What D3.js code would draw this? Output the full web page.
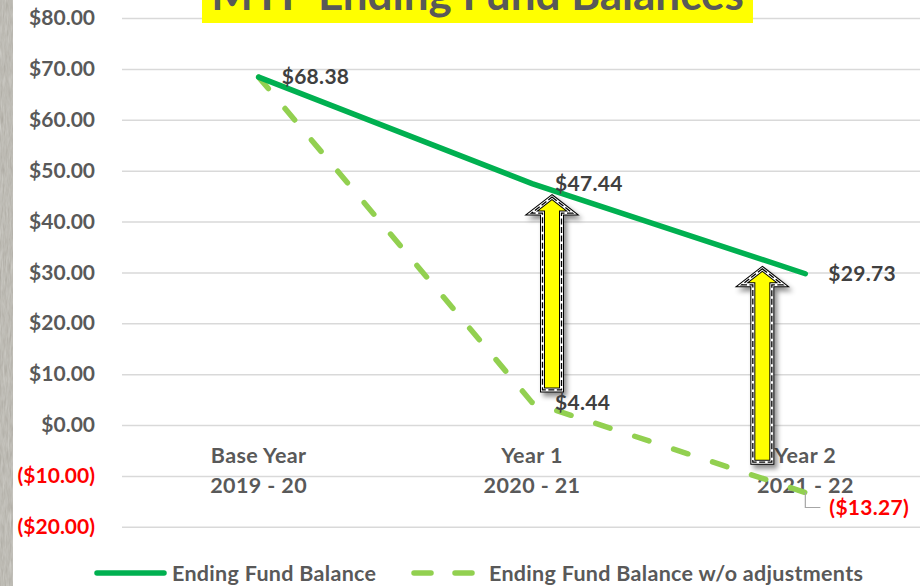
<!DOCTYPE html>
<html>
<head>
<meta charset="utf-8">
<script src="https://cdn.jsdelivr.net/npm/d3@7"></script>
<style>
body { margin: 0; background: #fff; }
svg { display: block; font-family: Lato, "Open Sans", sans-serif; font-weight: bold; }
</style>
</head>
<body>
<svg id="chart" width="920" height="586"></svg>
<script>
// chart values
var catLine1 = ["Base Year", "Year 1", "Year 2"];
var catLine2 = ["2019 - 20", "2020 - 21", "2021 - 22"];
var withAdj = [68.38, 47.44, 29.73];
var withoutAdj = [68.38, 4.44, -13.27];
var yTicks = [-20, -10, 0, 10, 20, 30, 40, 50, 60, 70, 80];
var seriesNames = ["Ending Fund Balance", "Ending Fund Balance w/o adjustments"];
var titleText = "MYP Ending Fund Balances";
// yellow arrows: from (w/o) value up to (with) value, per year
var arrowCat = [1, 2];
var arrowFrom = [6.9, -7.3];
var arrowTo = [44.8, 30.7];

var solidGreen = "#00B050",
    lightGreen = "#92D050",
    textGrey = "#595959";

var svg = d3.select("#chart");
var defs = svg.append("defs");

// stone strip texture on the left
var stone = defs.append("filter").attr("id", "stone").attr("x", 0).attr("y", 0).attr("width", 1).attr("height", 1);
stone.append("feTurbulence").attr("type", "fractalNoise").attr("baseFrequency", "0.6 0.08").attr("numOctaves", 3).attr("result", "n");
stone.append("feColorMatrix").attr("in", "n").attr("type", "matrix")
    .attr("values", "0 0 0 0 0.62  0 0 0 0 0.61  0 0 0 0 0.57  0.6 0.6 0.6 0 -0.4").attr("result", "c");
stone.append("feComposite").attr("in", "c").attr("in2", "SourceGraphic").attr("operator", "over");

var shadow = defs.append("filter").attr("id", "shadow").attr("x", "-50%").attr("y", "-20%").attr("width", "200%").attr("height", "140%");
shadow.append("feDropShadow").attr("dx", 3).attr("dy", 4).attr("stdDeviation", 2.5)
    .attr("flood-color", "#000").attr("flood-opacity", 0.45);

svg.append("rect").attr("x", 0).attr("y", 0).attr("width", 13).attr("height", 586)
    .attr("fill", "#aaa79f").attr("filter", "url(#stone)");

var x = d3.scalePoint().domain(d3.range(catLine1.length)).range([122, 942]).padding(0.5);
var y = d3.scaleLinear().domain([-20, 80]).range([526.75, 18]);

var money = function(d) {
    return d < 0 ? "($" + Math.abs(d).toFixed(2) + ")" : "$" + d.toFixed(2);
};

// gridlines
var grid = svg.append("g").attr("transform", "translate(122,0)")
    .call(d3.axisLeft(y).tickValues(yTicks).tickSize(-820).tickFormat(""));
grid.select(".domain").remove();
grid.selectAll("line").attr("stroke", "#d9d9d9").attr("stroke-width", 1.5);

// y axis labels
var yAx = svg.append("g").attr("transform", "translate(122,0)")
    .call(d3.axisLeft(y).tickValues(yTicks).tickSize(0).tickPadding(27).tickFormat(money));
yAx.select(".domain").remove();
yAx.selectAll("text")
    .attr("font-size", 21).attr("font-family", "Lato, sans-serif").attr("font-weight", "bold")
    .attr("fill", function(d) { return d < 0 ? "#FF0000" : textGrey; });

// category labels
var cats = svg.append("g").attr("font-size", 21.5).attr("fill", textGrey).attr("letter-spacing", 0.4);
cats.selectAll("text.l1").data(catLine1).enter().append("text")
    .attr("x", function(d, i) { return x(i); }).attr("y", 463)
    .attr("text-anchor", "middle").text(function(d) { return d; });
cats.selectAll("text.l2").data(catLine2).enter().append("text")
    .attr("x", function(d, i) { return x(i); }).attr("y", 493)
    .attr("text-anchor", "middle").text(function(d) { return d; });

// lines
var line = d3.line().x(function(d, i) { return x(i); }).y(function(d) { return y(d); });
svg.append("path").datum(withoutAdj).attr("d", line).attr("fill", "none")
    .attr("stroke", lightGreen).attr("stroke-width", 5.5).attr("stroke-linecap", "round")
    .attr("stroke-dasharray", "15,26");
svg.append("path").datum(withAdj).attr("d", line).attr("fill", "none")
    .attr("stroke", solidGreen).attr("stroke-width", 5.5).attr("stroke-linecap", "round");

// yellow block arrows
var arrowPath = function(cx, yTop, yBot) {
    var sw = 9.5, hw = 20.5, hh = 16;
    return "M" + cx + "," + yTop +
        "L" + (cx + hw) + "," + (yTop + hh) +
        "L" + (cx + sw) + "," + (yTop + hh) +
        "L" + (cx + sw) + "," + yBot +
        "L" + (cx - sw) + "," + yBot +
        "L" + (cx - sw) + "," + (yTop + hh) +
        "L" + (cx - hw) + "," + (yTop + hh) + "Z";
};
var arrowShift = [20, -43];
var arrows = svg.append("g");
arrowCat.forEach(function(c, i) {
    var d = arrowPath(x(c) + arrowShift[i], y(arrowTo[i]), y(arrowFrom[i]));
    arrows.append("path").attr("d", d).attr("fill", "#FFFF00")
        .attr("stroke", "#000").attr("stroke-width", 5).attr("stroke-linejoin", "miter")
        .attr("filter", "url(#shadow)");
    arrows.append("path").attr("d", d).attr("fill", "none")
        .attr("stroke", "#fff").attr("stroke-width", 3);
    arrows.append("path").attr("d", d).attr("fill", "none")
        .attr("stroke", "#000").attr("stroke-width", 1.3).attr("stroke-dasharray", "6,2.5");
});

// data labels
var lbl = svg.append("g").attr("font-size", 21).attr("fill", "#404040").attr("letter-spacing", 0.3);
withAdj.forEach(function(v, i) {
    lbl.append("text").attr("x", x(i) + 23).attr("y", y(v)).attr("dy", "0.35em").text(money(v));
});
withoutAdj.forEach(function(v, i) {
    if (i === 0) return;
    if (v >= 0) {
        lbl.append("text").attr("x", x(i) + 23).attr("y", y(v)).attr("dy", "0.35em").text(money(v));
    } else {
        var px = x(i), py = y(v);
        svg.append("polyline")
            .attr("points", px + "," + py + " " + px + "," + (py + 15) + " " + (px + 15) + "," + (py + 15))
            .attr("fill", "none").attr("stroke", "#a6a6a6").attr("stroke-width", 1.2);
        lbl.append("text").attr("x", px + 24).attr("y", py + 15).attr("dy", "0.35em")
            .attr("fill", "#FF0000").text(money(v));
    }
});

// title
svg.append("rect").attr("x", 202).attr("y", -30).attr("width", 551).attr("height", 53).attr("fill", "#FFFF00");
svg.append("text").attr("x", 477.5).attr("y", 10).attr("text-anchor", "middle")
    .attr("font-size", 44).attr("fill", textGrey).text(titleText);

// legend
var leg = svg.append("g").attr("font-size", 21.5).attr("fill", textGrey).attr("letter-spacing", 0.3);
leg.append("line").attr("x1", 97).attr("x2", 164).attr("y1", 573).attr("y2", 573)
    .attr("stroke", solidGreen).attr("stroke-width", 5.5).attr("stroke-linecap", "round");
leg.append("text").attr("x", 172).attr("y", 573).attr("dy", "0.35em").text(seriesNames[0]);
leg.append("line").attr("x1", 414).attr("x2", 476).attr("y1", 573).attr("y2", 573)
    .attr("stroke", lightGreen).attr("stroke-width", 5.5).attr("stroke-linecap", "round")
    .attr("stroke-dasharray", "17,24");
leg.append("text").attr("x", 489).attr("y", 573).attr("dy", "0.35em").text(seriesNames[1]);
</script>
</body>
</html>
